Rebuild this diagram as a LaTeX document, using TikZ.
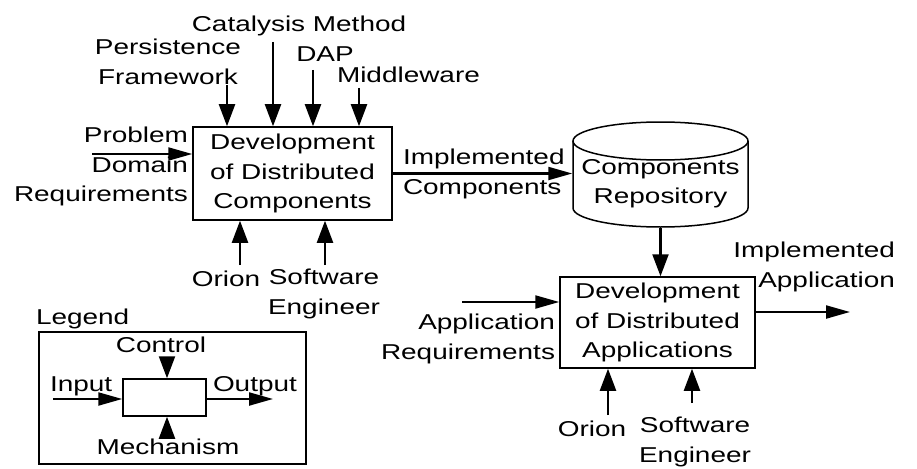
\documentclass[tikz,border=0pt]{standalone}
\usepackage{fontspec}
\setmainfont{Liberation Sans}[FakeStretch=1.3]
\usetikzlibrary{arrows.meta}

\begin{document}
\begin{tikzpicture}[x=1pt,y=-1pt,
  txt/.style={font=\fontsize{21.5}{29.5}\selectfont, inner sep=0pt, outer sep=0pt},
  proc/.style={draw, line width=1.5pt, inner sep=0pt, align=center,
    font=\fontsize{21.5}{29.5}\selectfont},
  frame/.style={draw, line width=1.5pt, inner sep=0pt},
  varr/.style={line width=2.2pt, -{Triangle[length=22pt,width=16pt]}},
  harr/.style={line width=2.2pt, -{Triangle[length=24pt,width=13pt]}}]

\useasboundingbox (0,0) rectangle (917,468);
\fill[white] (0,0) rectangle (917,468);

% activity boxes
\node[proc, minimum width=199pt, minimum height=93pt] (ddc) at (292.5,173.5)
  {Development\\of Distributed\\Components};
\node[proc, minimum width=195pt, minimum height=91pt] (dda) at (657.5,322.5)
  {Development\\of Distributed\\Applications};

% repository (cylinder)
\node[inner sep=0pt, outer sep=0.75pt, minimum width=175pt, minimum height=105pt]
  (repo) at (660.5,174.5) {};
\draw[line width=1.5pt] (660.5,141) ellipse [x radius=87.5pt, y radius=19pt];
\draw[line width=1.5pt] (573,141) -- (573,208)
  arc[start angle=180, end angle=360, x radius=87.5pt, y radius=19pt] -- (748,141);
\node[txt, align=center, anchor=north] (repotxt) at (660.5,159.4)
  {Components\\Repository};

% controls of the first activity
\node[txt, anchor=north] (cat) at (299,16.4) {Catalysis Method};
\node[txt, align=center, anchor=north] (pf) at (168,39.4) {Persistence\\Framework};
\node[txt, anchor=north] (dap) at (325,46.4) {DAP};
\node[txt, anchor=north west] (mw) at (337,67.4) {Middleware};
\coordinate (pfs) at (227,85);
\coordinate (cats) at (273,42);
\coordinate (daps) at (313,70);
\coordinate (mws) at (359,88);
\draw[varr] (pfs) -- (pfs |- ddc.north);
\draw[varr] (cats) -- (cats |- ddc.north);
\draw[varr] (daps) -- (daps |- ddc.north);
\draw[varr] (mws) -- (mws |- ddc.north);

% input of the first activity
\node[txt, align=right, anchor=north east] (pdr) at (188,127.4)
  {Problem\\Domain\\Requirements};
\coordinate (pdrs) at (92,154);
\draw[harr] (pdrs) -- (pdrs -| ddc.west);

% mechanisms of the first activity
\node[txt, anchor=north] (orion1) at (226,271.4) {Orion};
\node[txt, align=center, anchor=north] (se1) at (324,269.4) {Software\\Engineer};
\coordinate (orion1s) at (240,265);
\coordinate (se1s) at (325,265);
\draw[varr] (orion1s) -- (orion1s |- ddc.south);
\draw[varr] (se1s) -- (se1s |- ddc.south);

% output into the repository
\node[txt, align=left, anchor=north west] (ic) at (403,149.4)
  {Implemented\\Components};
\draw[harr] (ddc.east) -- (ddc.east -| repo.west);

% repository feeds the second activity
\draw[varr] (repo.south) -- (repo.south |- dda.north);

% input of the second activity
\node[txt, align=right, anchor=north east] (ar) at (555,314.4)
  {Application\\Requirements};
\coordinate (ars) at (462,302);
\draw[harr] (ars) -- (ars -| dda.west);

% output of the second activity
\node[txt, align=right, anchor=north east] (ia) at (895,242.4)
  {Implemented\\Application};
\coordinate (iaend) at (850,312);
\draw[harr] (dda.east |- iaend) -- (iaend);

% mechanisms of the second activity
\node[txt, anchor=north] (orion2) at (592,421.4) {Orion};
\node[txt, align=center, anchor=north] (se2) at (695,417.4) {Software\\Engineer};
\coordinate (orion2s) at (608,415);
\coordinate (se2s) at (692,403);
\draw[varr] (orion2s) -- (orion2s |- dda.south);
\draw[varr] (se2s) -- (se2s |- dda.south);

% legend
\node[txt, anchor=north west] (legendtitle) at (36,309.4) {Legend};
\node[frame, minimum width=267pt, minimum height=132pt] (legendframe) at (172.5,398) {};
\node[frame, minimum width=83pt, minimum height=37pt] (lproc) at (164.5,397.5) {};
\node[txt, anchor=north] (lcontrol) at (161,337.4) {Control};
\node[txt, anchor=north west] (linput) at (50,376.4) {Input};
\node[txt, anchor=north west] (loutput) at (213,376.4) {Output};
\node[txt, anchor=north] (lmech) at (168,439.4) {Mechanism};
\coordinate (lcs) at (167,357);
\coordinate (lis) at (53,399);
\coordinate (loe) at (273,399);
\coordinate (lms) at (167,437);
\draw[varr] (lcs) -- (lcs |- lproc.north);
\draw[harr] (lis) -- (lis -| lproc.west);
\draw[harr] (lproc.east |- loe) -- (loe);
\draw[varr] (lms) -- (lms |- lproc.south);

\end{tikzpicture}
\end{document}
